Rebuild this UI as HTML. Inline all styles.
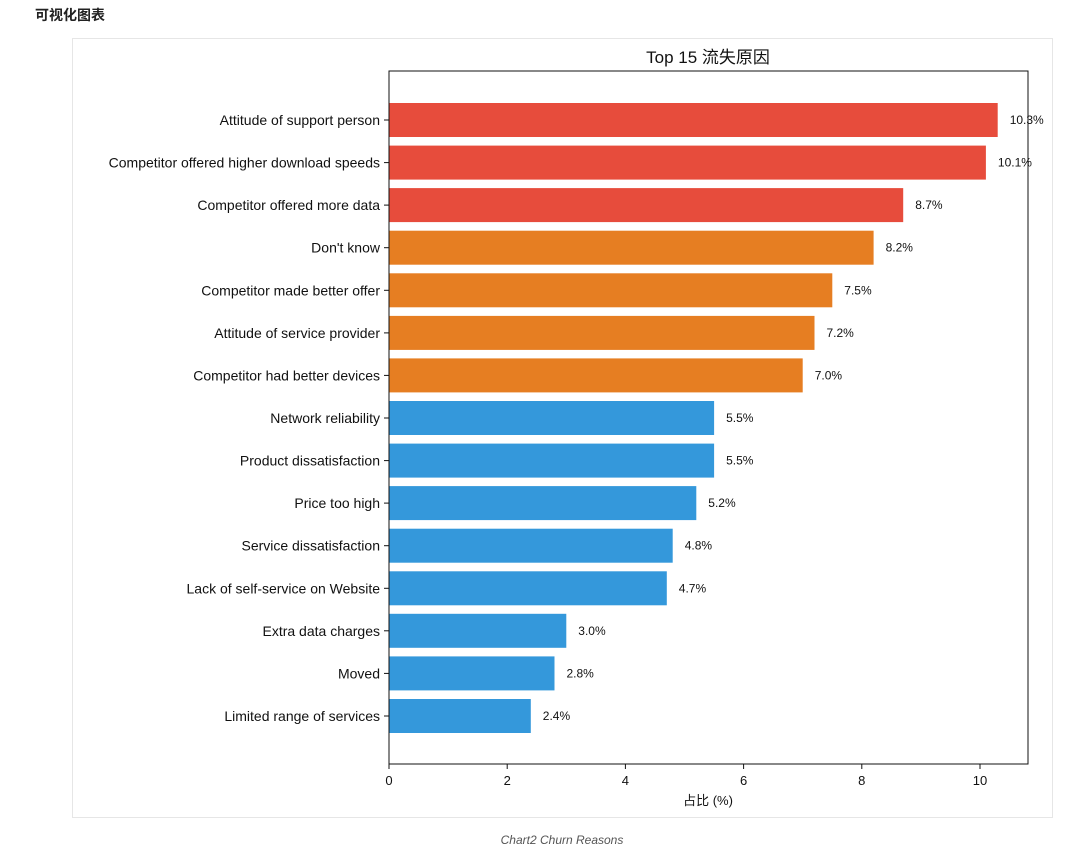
<!DOCTYPE html>
<html><head><meta charset="utf-8"><style>
body{margin:0;background:#fff;width:1080px;height:855px;overflow:hidden;font-family:"Liberation Sans","Noto Sans CJK SC",sans-serif}
</style></head><body>
<svg width="1080" height="855" xmlns="http://www.w3.org/2000/svg" font-family="Liberation Sans, Noto Sans CJK SC, sans-serif">
<text x="35" y="20" font-size="14" font-weight="bold" fill="#222">可视化图表</text>
<rect x="72.5" y="38.5" width="980" height="779" fill="#fff" stroke="#e6e6e6"/>
<text x="708" y="63" font-size="17" text-anchor="middle" fill="#111">Top 15 流失原因</text>
<g>
<rect x="389" y="103" width="608.7" height="34" fill="#e74c3c"/>
<rect x="389" y="145.6" width="596.9" height="34" fill="#e74c3c"/>
<rect x="389" y="188.1" width="514.2" height="34" fill="#e74c3c"/>
<rect x="389" y="230.7" width="484.6" height="34" fill="#e67e22"/>
<rect x="389" y="273.3" width="443.3" height="34" fill="#e67e22"/>
<rect x="389" y="315.9" width="425.5" height="34" fill="#e67e22"/>
<rect x="389" y="358.4" width="413.7" height="34" fill="#e67e22"/>
<rect x="389" y="401" width="325.1" height="34" fill="#3498db"/>
<rect x="389" y="443.6" width="325.1" height="34" fill="#3498db"/>
<rect x="389" y="486.1" width="307.3" height="34" fill="#3498db"/>
<rect x="389" y="528.7" width="283.7" height="34" fill="#3498db"/>
<rect x="389" y="571.3" width="277.8" height="34" fill="#3498db"/>
<rect x="389" y="613.8" width="177.3" height="34" fill="#3498db"/>
<rect x="389" y="656.4" width="165.5" height="34" fill="#3498db"/>
<rect x="389" y="699" width="141.8" height="34" fill="#3498db"/>
</g>
<g stroke="#111">
<line x1="384" y1="120" x2="389" y2="120"/><line x1="384" y1="162.6" x2="389" y2="162.6"/><line x1="384" y1="205.1" x2="389" y2="205.1"/><line x1="384" y1="247.7" x2="389" y2="247.7"/><line x1="384" y1="290.3" x2="389" y2="290.3"/><line x1="384" y1="332.9" x2="389" y2="332.9"/><line x1="384" y1="375.4" x2="389" y2="375.4"/><line x1="384" y1="418" x2="389" y2="418"/><line x1="384" y1="460.6" x2="389" y2="460.6"/><line x1="384" y1="503.1" x2="389" y2="503.1"/><line x1="384" y1="545.7" x2="389" y2="545.7"/><line x1="384" y1="588.3" x2="389" y2="588.3"/><line x1="384" y1="630.8" x2="389" y2="630.8"/><line x1="384" y1="673.4" x2="389" y2="673.4"/><line x1="384" y1="716" x2="389" y2="716"/>
</g>
<g font-size="14" text-anchor="end" fill="#111">
<text x="380" y="125">Attitude of support person</text>
<text x="380" y="167.6">Competitor offered higher download speeds</text>
<text x="380" y="210.1">Competitor offered more data</text>
<text x="380" y="252.7">Don't know</text>
<text x="380" y="295.3">Competitor made better offer</text>
<text x="380" y="337.9">Attitude of service provider</text>
<text x="380" y="380.4">Competitor had better devices</text>
<text x="380" y="423">Network reliability</text>
<text x="380" y="465.6">Product dissatisfaction</text>
<text x="380" y="508.1">Price too high</text>
<text x="380" y="550.7">Service dissatisfaction</text>
<text x="380" y="593.3">Lack of self-service on Website</text>
<text x="380" y="635.8">Extra data charges</text>
<text x="380" y="678.4">Moved</text>
<text x="380" y="721">Limited range of services</text>
</g>
<g font-size="12" fill="#111">
<text x="1009.7" y="124">10.3%</text>
<text x="997.9" y="166.6">10.1%</text>
<text x="915.2" y="209.1">8.7%</text>
<text x="885.6" y="251.7">8.2%</text>
<text x="844.3" y="294.3">7.5%</text>
<text x="826.5" y="336.9">7.2%</text>
<text x="814.7" y="379.4">7.0%</text>
<text x="726.1" y="422">5.5%</text>
<text x="726.1" y="464.6">5.5%</text>
<text x="708.3" y="507.1">5.2%</text>
<text x="684.7" y="549.7">4.8%</text>
<text x="678.8" y="592.3">4.7%</text>
<text x="578.3" y="634.8">3.0%</text>
<text x="566.5" y="677.4">2.8%</text>
<text x="542.8" y="720">2.4%</text>
</g>
<rect x="389" y="71" width="639" height="693" fill="none" stroke="#111" stroke-width="1"/>
<g font-size="13" fill="#111" text-anchor="middle">
<line x1="389" y1="764" x2="389" y2="769" stroke="#111"/><text x="389" y="785">0</text>
<line x1="507.2" y1="764" x2="507.2" y2="769" stroke="#111"/><text x="507.2" y="785">2</text>
<line x1="625.4" y1="764" x2="625.4" y2="769" stroke="#111"/><text x="625.4" y="785">4</text>
<line x1="743.6" y1="764" x2="743.6" y2="769" stroke="#111"/><text x="743.6" y="785">6</text>
<line x1="861.8" y1="764" x2="861.8" y2="769" stroke="#111"/><text x="861.8" y="785">8</text>
<line x1="980" y1="764" x2="980" y2="769" stroke="#111"/><text x="980" y="785">10</text>
<text x="708" y="805">占比 (%)</text>
</g>
<text x="562" y="844" font-size="12" font-style="italic" fill="#555" text-anchor="middle">Chart2 Churn Reasons</text>
</svg>
</body></html>
